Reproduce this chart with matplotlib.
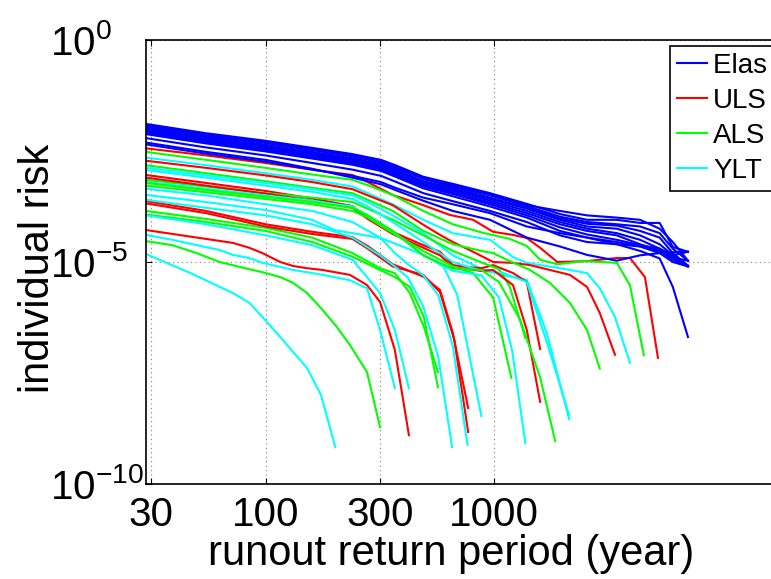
import matplotlib.pyplot as plt
from matplotlib.ticker import NullLocator

plt.rcParams['font.family'] = ['Liberation Sans', 'DejaVu Sans']
plt.rcParams['mathtext.fontset'] = 'custom'
plt.rcParams['mathtext.rm'] = 'Liberation Sans'
plt.rcParams['mathtext.it'] = 'Liberation Sans:italic'
plt.rcParams['mathtext.bf'] = 'Liberation Sans:bold'

# runout return period (years) and log10(individual risk)
elas_T = [30, 55, 100, 160, 240, 320, 370, 490, 660, 960, 1390, 1940, 2550, 3440, 4350, 5300, 6050, 7050]
elas_logr = [
    [-1.89, -2.10, -2.27, -2.43, -2.57, -2.70, -2.82, -3.08, -3.24, -3.45, -3.69, -3.92, -4.05, -4.05, -4.12, -4.12, -4.66, -4.77],
    [-1.94, -2.15, -2.32, -2.48, -2.62, -2.76, -2.88, -3.13, -3.30, -3.50, -3.74, -3.98, -4.10, -4.15, -4.20, -4.35, -4.70, -4.97],
    [-1.97, -2.18, -2.36, -2.52, -2.66, -2.80, -2.92, -3.18, -3.33, -3.55, -3.78, -4.02, -4.14, -4.18, -4.30, -4.45, -4.80, -5.08],
    [-2.00, -2.21, -2.39, -2.55, -2.69, -2.83, -2.95, -3.20, -3.37, -3.58, -3.80, -4.05, -4.20, -4.25, -4.40, -4.60, -4.85, -5.10],
    [-2.03, -2.24, -2.42, -2.58, -2.72, -2.86, -2.99, -3.24, -3.40, -3.62, -3.85, -4.10, -4.25, -4.35, -4.50, -4.70, -4.90, -4.97],
    [-2.06, -2.27, -2.45, -2.61, -2.75, -2.89, -3.02, -3.27, -3.44, -3.66, -3.90, -4.15, -4.30, -4.40, -4.60, -4.75, -4.95, -5.10],
    [-2.09, -2.30, -2.48, -2.64, -2.78, -2.92, -3.05, -3.30, -3.47, -3.70, -3.95, -4.22, -4.38, -4.50, -4.62, -4.70, -4.85, -4.77],
    [-2.12, -2.33, -2.51, -2.67, -2.81, -2.95, -3.08, -3.34, -3.52, -3.75, -4.00, -4.30, -4.45, -4.55, -4.65, -4.75, -4.90, -5.08],
    [-2.21, -2.42, -2.60, -2.77, -2.92, -3.06, -3.19, -3.45, -3.63, -3.85, -4.10, -4.40, -4.55, -4.60, -4.65, -4.80, -5.00, -5.10],
    [-2.31, -2.52, -2.70, -2.90, -3.10, -3.25, -3.38, -3.62, -3.85, -4.05, -4.45, -4.65, -4.84, -4.97, -4.85, -4.80, -4.78, -4.77],
    [-2.35, -2.56, -2.74, -2.92, -3.06, -3.20, -3.33, -3.55, -3.70, -3.90, -4.20, -4.35, -4.45, -4.60, -4.75, -4.92, -5.56, -6.69],
    [-1.92, -2.13, -2.30, -2.46, -2.60, -2.74, -2.86, -3.10, -3.27, -3.48, -3.72, -3.85, -3.95, -4.00, -4.05, -4.25, -4.55, -4.97],
]

uls = [
    ([30, 55, 100, 160, 240, 280, 360, 490, 640, 810, 990, 1210, 1390, 1590, 1890, 2550, 3440, 3930, 4570, 5210],
     [-2.44, -2.60, -2.77, -2.92, -3.04, -3.20, -3.49, -3.72, -3.94, -4.05, -4.32, -4.39, -4.46, -4.68, -5.00, -4.98, -4.91, -4.91, -5.34, -7.16]),
    ([30, 55, 100, 160, 240, 280, 360, 490, 580, 660, 810, 990, 1210, 1435, 1755, 2146, 2550, 2900, 3380],
     [-2.72, -2.88, -3.05, -3.20, -3.36, -3.50, -3.72, -4.16, -4.39, -4.55, -4.77, -5.00, -5.02, -5.07, -5.18, -5.29, -5.56, -6.15, -7.09]),
    ([30, 55, 100, 160, 240, 280, 360, 415, 490, 580, 660, 760, 880, 990, 1210, 1390, 1590],
     [-3.04, -3.22, -3.40, -3.57, -3.74, -3.99, -4.32, -4.46, -4.62, -4.77, -5.07, -5.11, -5.14, -5.07, -5.25, -5.45, -6.96]),
    ([30, 55, 100, 160, 240, 280, 360, 490, 580, 660, 760, 880, 990, 1210, 1390, 1590],
     [-3.10, -3.28, -3.46, -3.62, -3.78, -4.03, -4.37, -4.68, -4.85, -5.12, -5.16, -5.20, -5.18, -5.52, -6.53, -8.15]),
    ([30, 55, 100, 160, 240, 280, 360, 490, 580, 660, 770],
     [-3.63, -3.85, -4.15, -4.32, -4.44, -4.64, -5.05, -5.33, -5.63, -6.60, -8.29]),
    ([30, 55, 100, 160, 240, 280, 360, 490, 580, 670, 770],
     [-3.68, -3.90, -4.20, -4.37, -4.48, -4.70, -5.10, -5.29, -5.68, -6.76, -8.83]),
    ([30, 72, 85, 97, 116, 132, 152, 178, 234, 278, 317, 368, 424],
     [-4.28, -4.57, -4.68, -4.80, -5.00, -5.09, -5.14, -5.18, -5.29, -5.52, -5.90, -6.98, -8.90]),
]

als = [
    ([30, 55, 100, 160, 240, 280, 360, 490, 660, 890, 1170, 1390, 1590, 1890, 2470, 3440, 3930, 4520],
     [-2.52, -2.70, -2.88, -3.03, -3.15, -3.27, -3.49, -3.85, -4.15, -4.34, -4.48, -4.64, -4.95, -5.05, -4.98, -5.02, -5.52, -7.10]),
    ([30, 55, 100, 160, 240, 280, 360, 490, 660, 880, 990, 1170, 1435, 1755, 2146, 2550, 2900],
     [-2.82, -3.00, -3.18, -3.33, -3.45, -3.60, -3.85, -4.30, -4.60, -4.75, -4.80, -4.98, -5.18, -5.47, -5.92, -6.53, -7.40]),
    ([30, 55, 100, 160, 240, 280, 360, 490, 660, 890, 1050, 1170, 1370],
     [-3.15, -3.30, -3.45, -3.55, -3.65, -3.80, -4.05, -4.40, -4.75, -5.02, -5.16, -5.55, -6.71]),
    ([30, 55, 100, 160, 240, 280, 360, 490, 660, 810, 990, 1190],
     [-3.28, -3.43, -3.58, -3.70, -3.85, -4.00, -4.35, -4.75, -5.10, -5.25, -5.80, -7.61]),
    ([30, 55, 100, 160, 240, 317, 368, 428, 493, 568],
     [-3.85, -4.03, -4.23, -4.45, -4.80, -5.14, -5.25, -5.70, -6.46, -7.48]),
    ([30, 55, 100, 160, 240, 317, 368, 428, 493, 568],
     [-3.93, -4.10, -4.30, -4.55, -4.88, -5.18, -5.34, -5.56, -6.24, -7.82]),
    ([30, 39, 50, 63, 77, 97, 116, 132, 152, 175, 205, 234, 278, 317],
     [-4.53, -4.62, -4.80, -5.00, -5.11, -5.23, -5.34, -5.47, -5.70, -6.04, -6.46, -6.87, -7.48, -8.72]),
    ([30, 55, 100, 160, 240, 280, 360, 490, 660, 880, 1050, 1300, 1590, 1850],
     [-3.22, -3.38, -3.53, -3.65, -3.78, -3.95, -4.30, -4.85, -5.15, -5.18, -5.45, -6.30, -7.60, -9.03]),
]

ylt = [
    ([30, 55, 100, 160, 240, 280, 360, 490, 660, 960, 1210, 1390, 2150, 2550, 2900, 3380, 3930],
     [-2.65, -2.82, -3.00, -3.15, -3.30, -3.45, -3.70, -4.05, -4.35, -4.50, -4.89, -5.02, -5.18, -5.25, -5.59, -6.24, -7.27]),
    ([30, 55, 100, 160, 240, 280, 360, 490, 660, 880, 1100, 1390, 1700, 2130],
     [-2.88, -3.05, -3.22, -3.36, -3.50, -3.65, -3.95, -4.35, -4.85, -5.15, -5.30, -5.40, -6.60, -8.54]),
    ([30, 55, 100, 160, 240, 280, 360, 490, 660, 880, 1100, 1390, 1700, 2130],
     [-2.93, -3.10, -3.28, -3.42, -3.58, -3.75, -4.10, -4.55, -5.00, -5.20, -5.25, -5.45, -6.80, -8.45]),
    ([30, 55, 100, 160, 240, 280, 360, 490, 660, 880, 1050, 1200, 1370],
     [-3.20, -3.35, -3.50, -3.62, -3.75, -3.95, -4.30, -4.85, -5.20, -5.30, -5.80, -7.00, -9.08]),
    ([30, 55, 100, 160, 200, 320, 490, 600, 690, 880],
     [-3.49, -3.65, -3.83, -4.05, -4.28, -4.46, -4.84, -5.10, -5.74, -8.47]),
    ([30, 39, 50, 63, 72, 85, 97, 116, 132, 152, 178, 234, 278, 317, 368],
     [-4.39, -4.50, -4.62, -4.73, -4.84, -4.91, -5.02, -5.11, -5.18, -5.23, -5.29, -5.41, -5.59, -6.53, -7.84]),
    ([30, 47, 72, 85, 97, 116, 152, 175, 202],
     [-4.82, -5.25, -5.70, -5.92, -6.24, -6.69, -7.39, -8.00, -9.17]),
    ([30, 55, 100, 160, 240, 278, 317, 368, 424],
     [-3.95, -4.15, -4.40, -4.62, -4.95, -5.34, -5.70, -6.53, -7.84]),
    ([30, 55, 100, 160, 240, 317, 368, 420, 490, 570, 655],
     [-3.60, -3.78, -3.95, -4.15, -4.45, -4.85, -5.10, -5.35, -6.00, -7.14, -9.17]),
    ([30, 55, 100, 160, 240, 317, 368, 420, 490, 570, 660, 765],
     [-3.35, -3.50, -3.70, -3.85, -4.10, -4.45, -4.80, -5.05, -5.30, -5.75, -6.90, -9.12]),
]

# first label is cut by the right edge of the figure in the original
names = ['Elas   ', 'ULS', 'ALS', 'YLT']
colors = ['#0000ff', '#ff0000', '#00ff00', '#00ffff']

fig = plt.figure(figsize=(7.71, 5.79), dpi=100)
ax = fig.add_axes([0.18936, 0.16408, 0.8962, 0.76684])

groups = [[(elas_T, r) for r in elas_logr], uls, als, ylt]
handles = [None] * 4
n = max(len(g) for g in groups)
for i in range(n):
    for k, g in enumerate(groups):
        if i < len(g):
            t, lr = g[i]
            ln, = ax.plot(t, [10.0 ** v for v in lr], color=colors[k], lw=1.5)
            if handles[k] is None:
                handles[k] = ln

ax.set_xscale('log')
ax.set_yscale('log')
ax.set_xlim(30, 10 ** 4.5)
ax.set_ylim(1e-10, 1)
ax.set_xticks([10 ** 1.5, 100, 10 ** 2.5, 1000])
ax.set_xticklabels(['30', '100', '300', '1000'])
ax.set_yticks([1e-10, 1e-5, 1])
ax.set_yticklabels([r'$10^{-10}$', r'$10^{-5}$', r'$10^{0}$'], ha='left')
ax.xaxis.set_minor_locator(NullLocator())
ax.yaxis.set_minor_locator(NullLocator())
ax.tick_params(axis='both', direction='in', top=True, right=True, length=4.5, width=0.8, labelsize=29)
ax.tick_params(axis='y', pad=69)
ax.tick_params(axis='x', pad=9)
ax.grid(True, ls=(0, (1, 3)), color='0.5', lw=0.8)
for s in ax.spines.values():
    s.set_linewidth(1.2)

ax.set_xlabel('runout return period (year)', fontsize=30)
ax.xaxis.set_label_coords(0.4414, -0.1126)
ax.set_ylabel('individual risk', fontsize=30)
ax.yaxis.set_label_coords(-0.127, 0.4865)

leg = ax.legend(handles, names, loc='upper left', bbox_to_anchor=(0.7583, 0.9865),
                borderaxespad=0, fontsize=20, fancybox=False, framealpha=1,
                edgecolor='black', handlelength=1.1, handletextpad=0.2,
                borderpad=0.25, labelspacing=0.32)
leg.get_frame().set_linewidth(1.2)

fig.savefig('out.png', dpi=100)
